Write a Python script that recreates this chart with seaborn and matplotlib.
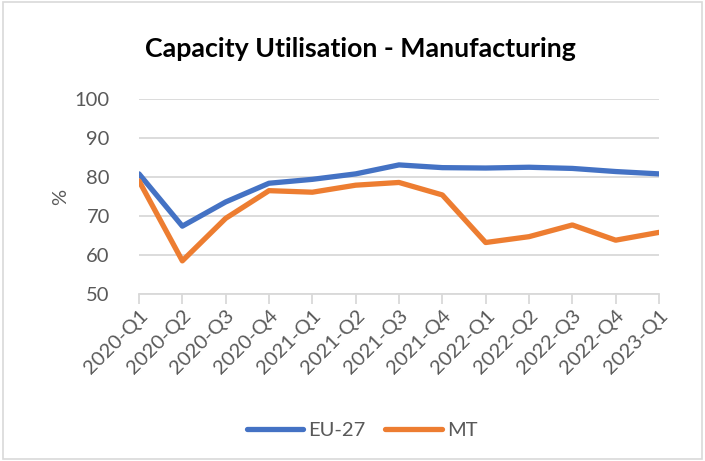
import matplotlib
matplotlib.use("Agg")
import matplotlib.pyplot as plt
import seaborn as sns
import pandas as pd

quarters = ["2020-Q1", "2020-Q2", "2020-Q3", "2020-Q4", "2021-Q1", "2021-Q2", "2021-Q3",
            "2021-Q4", "2022-Q1", "2022-Q2", "2022-Q3", "2022-Q4", "2023-Q1"]
eu27 = [80.8, 67.4, 73.6, 78.4, 79.4, 80.8, 83.1, 82.4, 82.3, 82.5, 82.2, 81.4, 80.8]
mt = [79.0, 58.5, 69.4, 76.5, 76.1, 77.9, 78.6, 75.4, 63.2, 64.7, 67.7, 63.8, 65.8]
series_names = ["EU-27", "MT"]
yticks = [50, 60, 70, 80, 90, 100]

df = pd.DataFrame({
    "quarter": quarters * 2,
    "value": eu27 + mt,
    "series": [series_names[0]] * len(quarters) + [series_names[1]] * len(quarters),
})

sns.set_style("white")
plt.rcParams["font.family"] = ["Lato", "DejaVu Sans"]

fig = plt.figure(figsize=(7.05, 4.61), dpi=100)
ax = fig.add_axes([139 / 705, 1 - 294 / 461, (659 - 139) / 705, (294 - 99) / 461])

sns.lineplot(data=df, x="quarter", y="value", hue="series",
             palette=["#4472C4", "#ED7D31"], linewidth=3.8, ax=ax,
             sort=False, legend=True)

ax.set_xlim(0, len(quarters) - 1)
ax.set_ylim(50, 100)
ax.set_yticks(yticks)
ax.set_xticks(range(len(quarters)))
ax.set_xticklabels(quarters, rotation=45, ha="right", rotation_mode="anchor")
ax.grid(axis="y", color="#d9d9d9", linewidth=1.3)
ax.set_axisbelow(True)
for s in ["left", "right", "top"]:
    ax.spines[s].set_visible(False)
ax.spines["bottom"].set_color("#d9d9d9")
ax.spines["bottom"].set_linewidth(1.3)
ax.tick_params(axis="x", which="both", bottom=True, length=7, width=1.3,
               color="#d9d9d9", labelsize=14.5, labelcolor="#595959", pad=2)
ax.tick_params(axis="y", length=0, labelsize=14.5, labelcolor="#595959", pad=21)
ax.set_xlabel("")
ax.set_ylabel("%", fontsize=14.5, color="#595959", labelpad=4)

leg = ax.legend(loc="center", bbox_to_anchor=((362 - 139) / 520, -0.7), ncol=2, frameon=False,
                fontsize=14.5, handlelength=2.8, columnspacing=1.0, handletextpad=0.25)
for t in leg.get_texts():
    t.set_color("#595959")
for h in leg.get_lines():
    h.set_linewidth(3.8)
    h.set_solid_capstyle("round")

fig.text(360 / 705, 1 - 49 / 461, "Capacity Utilisation - Manufacturing",
         ha="center", va="center", fontsize=19.3, fontweight="bold", color="black")

border = plt.Rectangle((0.004, 0.004), 0.992, 0.992, transform=fig.transFigure,
                       fill=False, edgecolor="#d9d9d9", linewidth=1.2)
fig.patches.append(border)

fig.savefig("out.png", dpi=100)
